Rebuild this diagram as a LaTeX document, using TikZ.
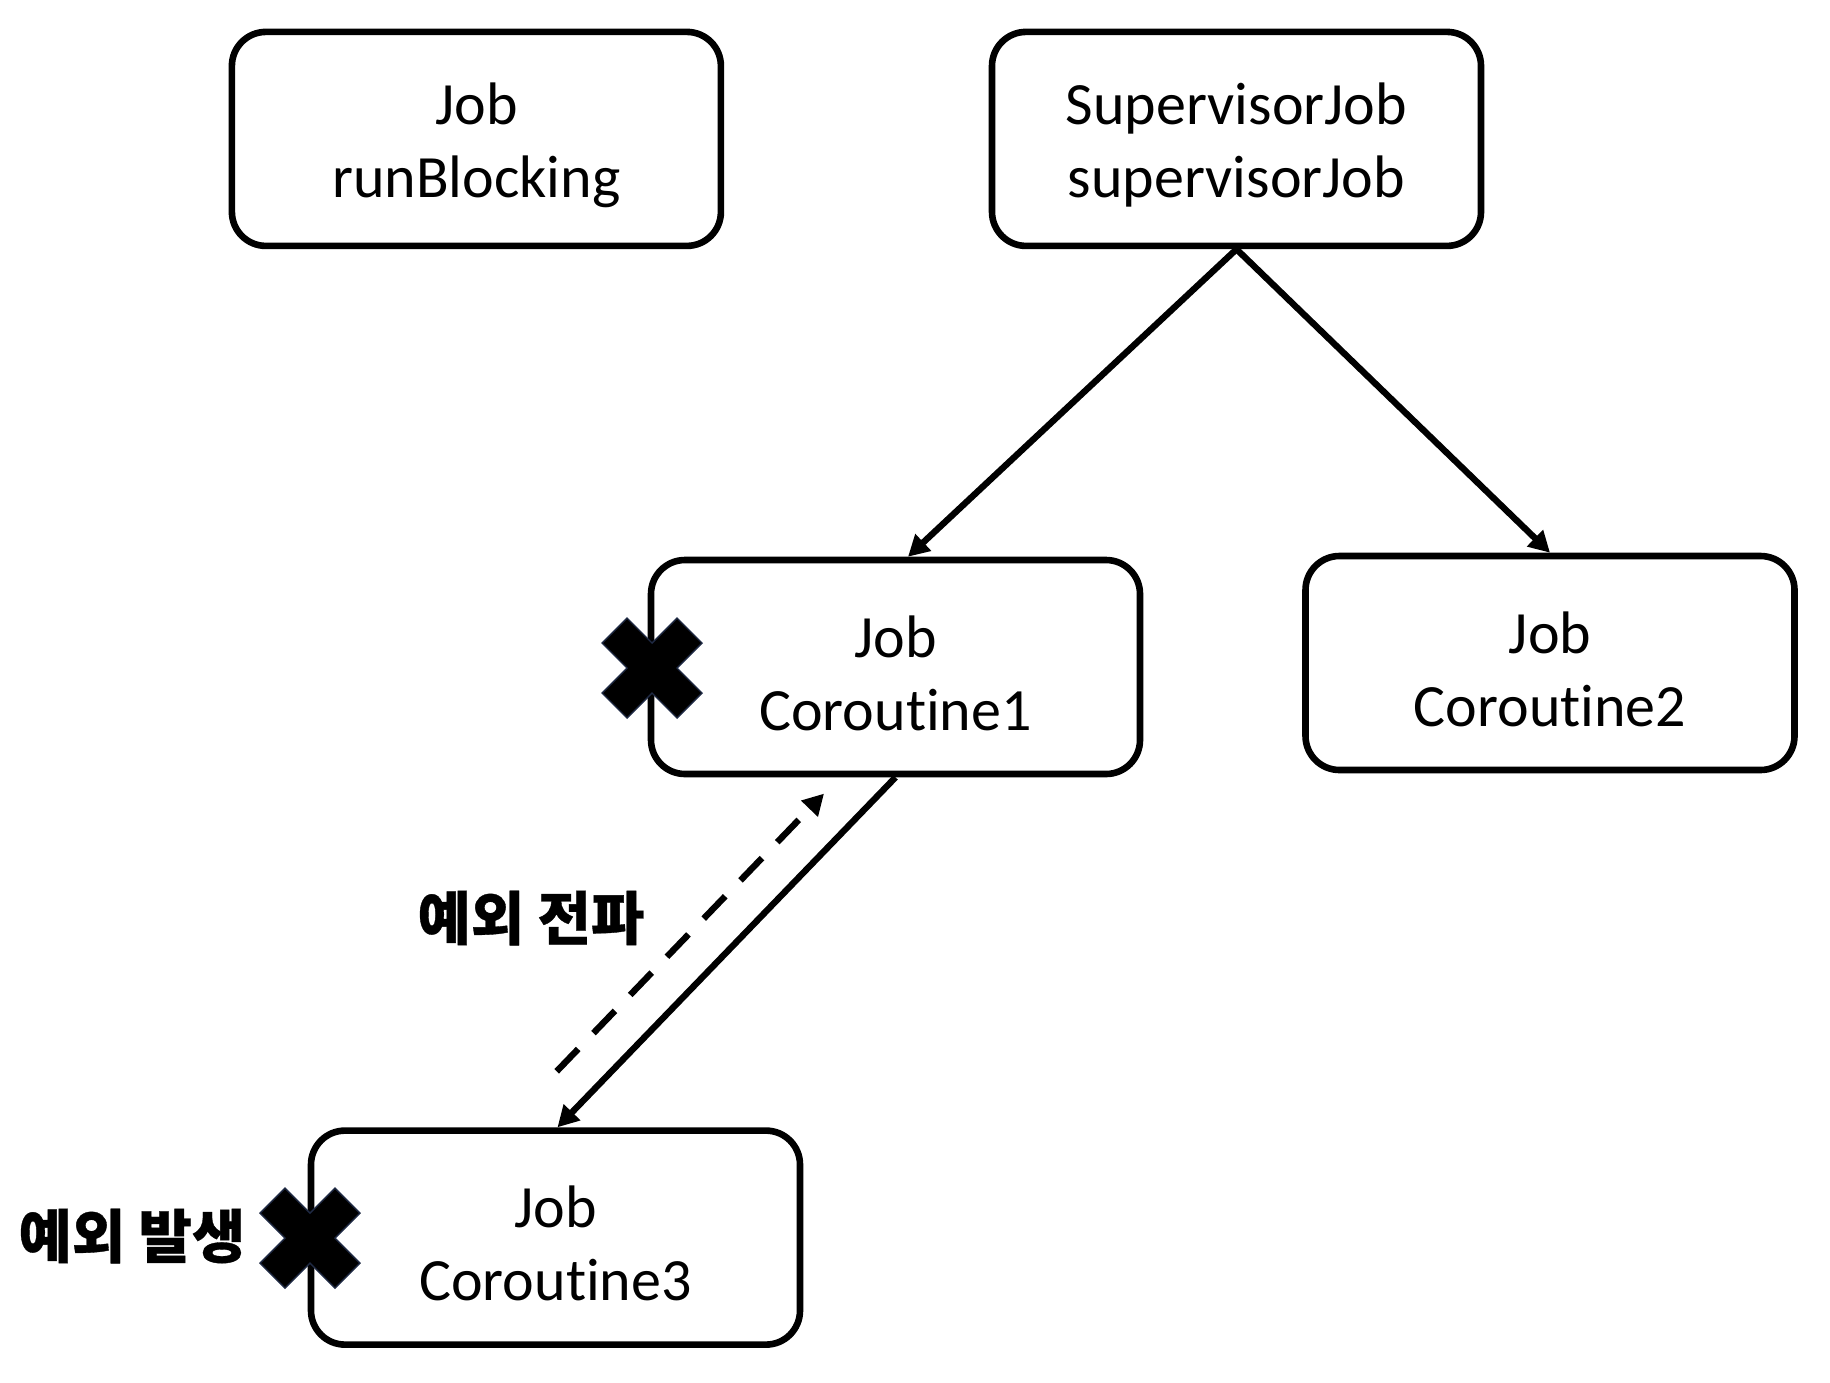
\documentclass[tikz,border=0pt]{standalone}
\usepackage{fontspec}
\setmainfont{Carlito}[Ligatures={NoCommon}]
\newfontfamily\krfont{Noto Sans CJK KR}[BoldFeatures={FakeBold=0.6}]
\usetikzlibrary{arrows.meta}
\definecolor{xedge}{HTML}{1F2A44}
\newcommand{\topgap}{\rule{0pt}{27pt}}
\begin{document}
\begin{tikzpicture}[x=0.5pt,y=-0.5pt,
  jobbox/.style={draw, line width=3.3pt, rounded corners=17pt, minimum width=244.5pt, minimum height=107pt, align=center, font=\fontsize{30}{36.5}\selectfont, inner sep=0pt},
  conn/.style={line width=3.2pt, -{Triangle[length=10.5pt,width=11pt]}},
  krlabel/.style={font=\krfont\bfseries\fontsize{29}{32}\selectfont, inner sep=0pt},
  xmark/.style={fill=black, draw=xedge, line width=0.7pt, line join=miter}]
\path[use as bounding box] (0,0) rectangle (1830,1382);
\node[jobbox] (rb)  at (476.4,138.9)  {\topgap Job\\runBlocking};
\node[jobbox] (sup) at (1236.5,138.9) {\topgap SupervisorJob\\supervisorJob};
\node[jobbox] (c1)  at (895.5,667)  {\topgap Job\\Coroutine1};
\node[jobbox] (c2)  at (1550,663) {\topgap Job\\Coroutine2};
\node[jobbox] (c3)  at (555.5,1237.6) {\topgap Job\\Coroutine3};
\draw[conn] (sup.south) -- ([xshift=6.25pt]c1.north);
\draw[conn] (sup.south) -- (c2.north);
\draw[conn] (c1.south) -- ([xshift=1pt]c3.north);
\coordinate (ds) at (556.7,1071.3);
\coordinate (de) at (824,793.6);
\draw[conn, dash pattern=on 15.5pt off 11pt] (ds) -- (de);
\node[krlabel] (lprop) at (531,918) {예외 전파};
\node[krlabel] (lerr) at (132,1236) {예외 발생};
\foreach \cx/\cy [count=\i] in {652/668, 310/1238}{
  \draw[xmark] (\cx,\cy) ++(0,-25) -- ++(25,-25) -- ++(25,25) -- ++(-25,25) -- ++(25,25) -- ++(-25,25) -- ++(-25,-25) -- ++(-25,25) -- ++(-25,-25) -- ++(25,-25) -- ++(-25,-25) -- ++(25,-25) -- cycle;
}
\end{tikzpicture}
\end{document}
